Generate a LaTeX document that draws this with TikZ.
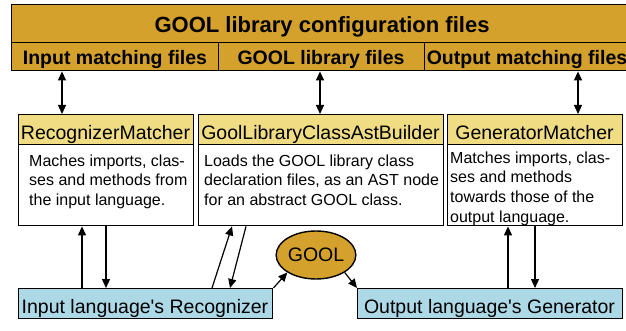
\documentclass[tikz,border=0pt]{standalone}
\usepackage{fontspec}
\setmainfont{Liberation Sans}
\usetikzlibrary{arrows.meta,shapes.geometric}
\definecolor{goldfill}{HTML}{D4A12C}
\definecolor{hdrfill}{HTML}{F0DC82}
\definecolor{bluefill}{HTML}{ADD8E6}
\begin{document}
\begin{tikzpicture}[x=1pt,y=-1pt,
  box/.style={draw=black, line width=1.4pt, inner sep=0pt, anchor=north west},
  gbox/.style={box, fill=goldfill},
  hbox/.style={box, fill=hdrfill},
  wbox/.style={box, fill=white},
  bbox/.style={box, fill=bluefill},
  arr/.style={-{Triangle[length=9pt,width=8pt]}, line width=1.2pt},
  dbl/.style={{Triangle[length=9pt,width=8pt]}-{Triangle[length=9pt,width=8pt]}, line width=1.2pt},
  big/.style={inner sep=0pt, font=\fontsize{19.5}{22}\selectfont},
  ttl/.style={inner sep=0pt, font=\bfseries\fontsize{22}{26}\selectfont},
  sub/.style={inner sep=0pt, font=\bfseries\fontsize{19.5}{22}\selectfont},
  body/.style={inner sep=0pt, anchor=north west, align=left, font=\fontsize{16}{19.6}\selectfont},
]
\useasboundingbox (0,0) rectangle (626,331);
% top band
\node[gbox, minimum width=622pt, minimum height=38pt] (bandtop) at (11,4) {};
\node[gbox, minimum width=207pt, minimum height=28pt] (c1) at (11,42) {};
\node[gbox, minimum width=206pt, minimum height=28pt] (c2) at (218,42) {};
\node[gbox, minimum width=209pt, minimum height=28pt] (c3) at (424,42) {};
\node[ttl, anchor=base] (ttltext) at (322,33) {GOOL library configuration files};
\node[sub, anchor=base] (c1text) at (115,65) {Input matching files};
\node[sub, anchor=base] (c2text) at (321,65) {GOOL library files};
\node[sub, anchor=base] (c3text) at (527,65) {Output matching files};
% boxes
\node[hbox, minimum width=175pt, minimum height=30pt] (rmh) at (18,114) {};
\node[wbox, minimum width=175pt, minimum height=81pt] (rmb) at (18,144) {};
\node[hbox, minimum width=245pt, minimum height=30pt] (mh) at (198,114) {};
\node[wbox, minimum width=245pt, minimum height=81pt] (mb) at (198,144) {};
\node[hbox, minimum width=175pt, minimum height=30pt] (gh) at (447,114) {};
\node[wbox, minimum width=175pt, minimum height=81pt] (gb) at (447,144) {};
\node[big, anchor=base] (rmhtext) at (105.5,140) {RecognizerMatcher};
\node[big, anchor=base] (mhtext) at (320.5,140) {GoolLibraryClassAstBuilder};
\node[big, anchor=base] (ghtext) at (534.5,140) {GeneratorMatcher};
\node[body] (rmbtext) at (29,154.5) {Maches imports, clas-\\ses and methods from\\the input language.};
\node[body] (mbtext) at (204,154.5) {Loads the GOOL library class\\declaration files, as an AST node\\for an abstract GOOL class.};
\node[body] (gbtext) at (450,151.5) {Matches imports, clas-\\ses and methods\\towards those of the\\output language.};
% bottom
\node[bbox, minimum width=254pt, minimum height=30pt] (inp) at (18,288) {};
\node[bbox, minimum width=265pt, minimum height=30pt] (out) at (357,288) {};
\node[big, anchor=base] (inptext) at (145,313) {Input language\textquotesingle s Recognizer};
\node[big, anchor=base] (outtext) at (489.5,313) {Output language\textquotesingle s Generator};
\node[ellipse, draw=black, line width=1.4pt, fill=goldfill, minimum width=70pt, minimum height=48pt, inner sep=0pt, font=\fontsize{19.5}{22}\selectfont] (gool) at (316,255) {GOOL};
% arrows
\draw[dbl] (c1.south -| 62,0) -- (rmh.north -| 62,0);
\draw[dbl] (c2.south -| 320,0) -- (mh.north -| 320,0);
\draw[dbl] (c3.south -| 578,0) -- (gh.north -| 578,0);
\draw[arr] (inp.north -| 82,0) -- (rmb.south -| 82,0);
\draw[arr] (rmb.south -| 106,0) -- (inp.north -| 106,0);
\draw[arr] (inp.north -| 212,0) -- (mb.south -| 232,0);
\draw[arr] (mb.south -| 246,0) -- (inp.north -| 230,0);
\draw[arr] (inp.north east) -- (gool.south west);
\draw[arr] (gool.south east) -- (out.north west);
\draw[arr] (out.north -| 508,0) -- (gb.south -| 508,0);
\draw[arr] (gb.south -| 535,0) -- (out.north -| 535,0);
\end{tikzpicture}
\end{document}
